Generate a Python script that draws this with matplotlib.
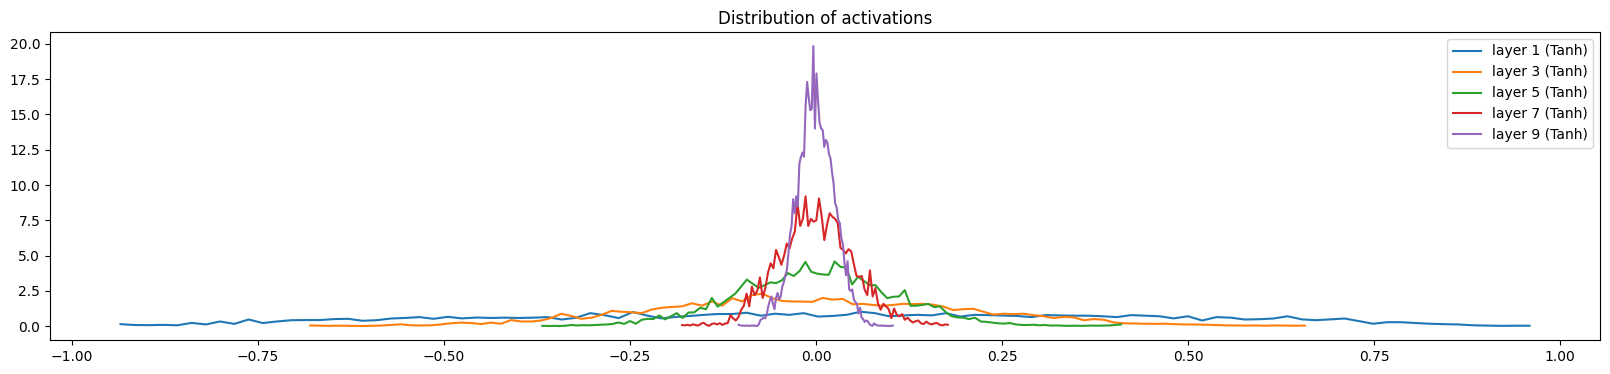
import numpy as np
import matplotlib
matplotlib.use("Agg")
import matplotlib.pyplot as plt

labels = ["layer 1 (Tanh)", "layer 3 (Tanh)", "layer 5 (Tanh)", "layer 7 (Tanh)", "layer 9 (Tanh)"]

# histogram bin ranges (first and last left bin edge) for each layer
x_ranges = [(-0.935, 0.959), (-0.680, 0.657), (-0.368, 0.410), (-0.180, 0.177), (-0.104, 0.103)]

layer1 = [0.14, 0.08, 0.07, 0.09, 0.06, 0.23, 0.12, 0.33, 0.16, 0.47,
          0.22, 0.33, 0.42, 0.43, 0.43, 0.50, 0.52, 0.38, 0.42, 0.54,
          0.58, 0.64, 0.52, 0.66, 0.55, 0.61, 0.58, 0.60, 0.58, 0.60,
          0.64, 0.47, 0.59, 0.92, 0.78, 0.57, 1.00, 0.75, 0.55, 0.65,
          0.72, 0.80, 0.86, 0.86, 0.95, 0.74, 0.88, 0.80, 0.92, 0.68,
          0.72, 0.80, 1.02, 0.92, 0.70, 0.76, 0.80, 0.76, 0.92, 0.68,
          0.80, 0.78, 0.75, 0.72, 0.64, 0.78, 0.76, 0.74, 0.74, 0.70,
          0.64, 0.78, 0.74, 0.70, 0.55, 0.70, 0.40, 0.64, 0.60, 0.47,
          0.49, 0.54, 0.70, 0.48, 0.42, 0.48, 0.54, 0.36, 0.17, 0.28,
          0.28, 0.22, 0.17, 0.14, 0.12, 0.06, 0.04, 0.02, 0.03, 0.03]

layer3 = [0.05, 0.03, 0.02, 0.03, 0.02, 0.01, 0.02, 0.04, 0.08, 0.13,
          0.06, 0.05, 0.06, 0.12, 0.20, 0.25, 0.22, 0.15, 0.25, 0.17,
          0.43, 0.33, 0.33, 0.40, 0.58, 0.88, 0.72, 0.52, 0.60, 0.80,
          1.08, 1.02, 0.98, 0.92, 1.18, 1.30, 1.36, 1.40, 1.62, 1.45,
          1.75, 1.45, 1.98, 1.75, 2.20, 2.30, 1.98, 1.78, 1.75, 1.74,
          1.72, 2.00, 1.88, 1.93, 1.55, 1.58, 1.50, 1.44, 1.50, 1.58,
          1.56, 1.58, 1.52, 1.39, 1.14, 1.20, 1.23, 1.02, 0.82, 0.88,
          0.85, 0.88, 0.78, 0.70, 0.57, 0.66, 0.62, 0.42, 0.50, 0.45,
          0.26, 0.20, 0.19, 0.17, 0.16, 0.17, 0.14, 0.12, 0.12, 0.10,
          0.08, 0.06, 0.05, 0.04, 0.05, 0.03, 0.05, 0.04, 0.03, 0.04]

layer5 = [0.02, 0.01, 0.02, 0.01, 0.03, 0.08, 0.05, 0.07, 0.06, 0.08,
          0.10, 0.12, 0.15, 0.26, 0.16, 0.36, 0.17, 0.45, 0.52, 0.50,
          0.76, 0.48, 0.70, 0.92, 0.58, 0.96, 0.98, 1.30, 1.20, 2.00,
          1.38, 1.70, 2.00, 2.30, 2.80, 3.30, 3.00, 2.72, 2.90, 3.10,
          3.05, 3.25, 3.76, 3.55, 3.90, 4.55, 3.85, 3.72, 3.66, 3.64,
          4.58, 4.20, 4.15, 2.95, 3.50, 3.20, 2.90, 2.90, 2.40, 1.98,
          2.08, 2.10, 2.55, 1.44, 1.45, 1.50, 1.58, 1.35, 1.40, 1.00,
          0.70, 0.62, 0.60, 0.50, 0.60, 0.33, 0.30, 0.25, 0.20, 0.18,
          0.22, 0.12, 0.09, 0.08, 0.10, 0.06, 0.08, 0.04, 0.05, 0.03,
          0.02, 0.03, 0.02, 0.03, 0.04, 0.03, 0.04, 0.05, 0.08, 0.12]

layer7 = [0.08, 0.05, 0.10, 0.04, 0.13, 0.08, 0.04, 0.17, 0.24, 0.10,
          0.02, 0.15, 0.20, 0.12, 0.21, 0.09, 0.18, 0.22, 0.78, 0.55,
          0.40, 0.65, 1.15, 1.45, 2.30, 1.40, 2.80, 2.20, 2.50, 3.45,
          2.00, 2.70, 3.80, 4.45, 4.10, 5.40, 4.90, 4.35, 5.00, 5.85,
          5.50, 6.20, 6.70, 8.70, 7.10, 7.60, 9.20, 7.10, 7.60, 7.40,
          7.50, 9.05, 7.80, 6.10, 7.20, 8.00, 7.75, 7.60, 7.30, 5.55,
          5.40, 5.15, 5.45, 5.30, 4.40, 3.55, 3.50, 3.55, 2.60, 2.20,
          3.95, 2.10, 2.70, 1.60, 1.16, 1.58, 1.40, 1.20, 0.57, 1.25,
          0.80, 0.70, 0.85, 0.45, 0.60, 0.40, 0.26, 0.35, 0.40, 0.20,
          0.15, 0.32, 0.18, 0.12, 0.20, 0.22, 0.10, 0.05, 0.12, 0.10]

layer9 = [0.10, 0.05, 0.03, 0.04, 0.02, 0.05, 0.03, 0.02, 0.04, 0.03,
          0.05, 0.01, 0.02, 0.15, 0.45, 0.50, 0.60, 0.55, 0.80, 1.40,
          1.80, 2.10, 1.60, 1.20, 2.00, 2.35, 1.90, 2.10, 2.80, 3.10,
          3.60, 4.00, 5.20, 6.50, 7.10, 9.00, 8.00, 9.20, 8.50, 11.5,
          12.0, 12.3, 12.0, 15.6, 17.3, 16.2, 15.3, 15.4, 19.85, 14.0,
          17.9, 16.0, 14.4, 14.0, 13.9, 12.7, 13.2, 13.0, 12.2, 11.9,
          10.9, 10.1, 8.7, 8.4, 7.5, 7.3, 6.2, 5.8, 4.5, 3.6,
          4.6, 2.6, 2.5, 2.6, 1.9, 1.7, 1.6, 0.9, 1.3, 0.6,
          0.5, 0.3, 0.4, 0.35, 0.15, 0.05, 0.02, 0.20, 0.10, 0.06,
          0.04, 0.03, 0.05, 0.02, 0.03, 0.02, 0.01, 0.02, 0.02, 0.04]

series = [layer1, layer3, layer5, layer7, layer9]

fig = plt.figure(figsize=(16.10, 3.74), dpi=100)
ax = fig.add_axes([50 / 1610, 1 - 340 / 374, 1550 / 1610, 308 / 374])
for (x0, x1), ys, lab in zip(x_ranges, series, labels):
    xs = np.linspace(x0, x1, len(ys))
    ax.plot(xs, ys, label=lab)
ax.legend(loc="upper right")
ax.set_title("Distribution of activations")
fig.savefig("out.png", dpi=100)
